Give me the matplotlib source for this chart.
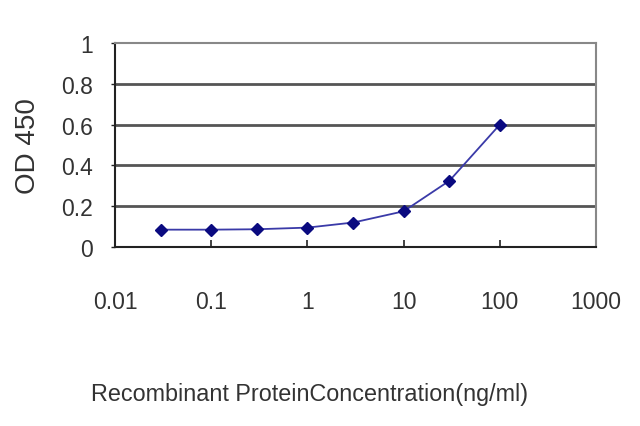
import matplotlib
matplotlib.use("Agg")
import matplotlib.pyplot as plt
from matplotlib.ticker import FixedLocator, FixedFormatter, NullLocator

concentration = [0.03, 0.1, 0.3, 1, 3, 10, 30, 100]
od450 = [0.085, 0.085, 0.087, 0.095, 0.12, 0.175, 0.325, 0.60]
x_ticks = [0.01, 0.1, 1, 10, 100, 1000]
x_tick_labels = ["0.01", "0.1", "1", "10", "100", "1000"]
y_ticks = [0, 0.2, 0.4, 0.6, 0.8, 1]
y_tick_labels = ["0", "0.2", "0.4", "0.6", "0.8", "1"]

plt.rcParams['font.family'] = ['Liberation Sans', 'DejaVu Sans']

fig = plt.figure(figsize=(6.4, 4.27), dpi=100)
ax = fig.add_axes([115/640, 1-248/427, (596-115)/640, (248-44)/427])

ax.set_xscale('log')
ax.set_xlim(0.01, 1000)
ax.set_ylim(0, 1)

for y in y_ticks[1:-1]:
    ax.axhline(y, color='#555555', lw=2.0, zorder=1)

ax.plot(concentration, od450, color='#3a3aa8', lw=1.3, marker='D', markersize=6,
        markerfacecolor='#0a0a80', markeredgecolor='#0a0a80', zorder=3)

ax.xaxis.set_major_locator(FixedLocator(x_ticks))
ax.xaxis.set_major_formatter(FixedFormatter(x_tick_labels))
ax.xaxis.set_minor_locator(NullLocator())
ax.yaxis.set_major_locator(FixedLocator(y_ticks))
ax.yaxis.set_major_formatter(FixedFormatter(y_tick_labels))

ax.tick_params(axis='x', direction='in', length=5, width=1.2, color='#222222',
               labelsize=16.5, pad=31, labelcolor='#333333')
ax.tick_params(axis='y', direction='out', length=3, width=1.0, color='#222222',
               labelsize=16.5, pad=13, labelcolor='#333333')

for s in ['left', 'bottom']:
    ax.spines[s].set_color('#222222')
    ax.spines[s].set_linewidth(1.5)
for s in ['top', 'right']:
    ax.spines[s].set_color('#888888')
    ax.spines[s].set_linewidth(1.5)

ax.set_ylabel('OD 450', fontsize=20, color='#333333', labelpad=14)
fig.text(310/640, 1-395/427, 'Recombinant ProteinConcentration(ng/ml)',
         fontsize=16.8, color='#333333', ha='center', va='center')

fig.savefig('out.png', dpi=100)
